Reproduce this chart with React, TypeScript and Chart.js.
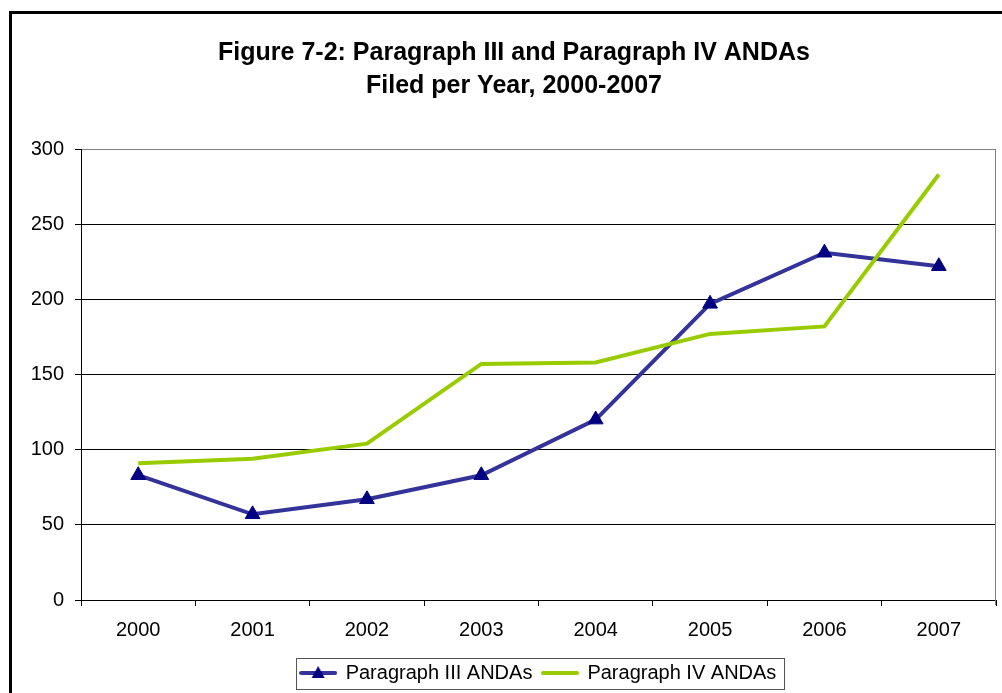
import React, { useEffect, useRef } from "react";
import { Chart, registerables } from "chart.js";

Chart.register(...registerables);

const years = ["2000", "2001", "2002", "2003", "2004", "2005", "2006", "2007"];
const paragraphIII = [83, 57, 67, 83, 120, 197, 231, 222];
const paragraphIV = [91, 94, 104, 157, 158, 177, 182, 283];
const seriesNames = ["Paragraph III ANDAs", "Paragraph IV ANDAs"];
const titleLines = ["Figure 7-2: Paragraph III and Paragraph IV ANDAs", "Filed per Year, 2000-2007"];
const yMin = 0;
const yMax = 300;
const yStep = 50;

const FONT = "'Liberation Sans', Arial, Helvetica, sans-serif";
const COLOR_III = "#333399";
const MARKER_III = "#000080";
const COLOR_IV = "#99CC00";

function makeLegendImage(color: string, withTriangle: boolean): HTMLCanvasElement {
  const c = document.createElement("canvas");
  c.width = 38;
  c.height = 16;
  const ctx = c.getContext("2d")!;
  ctx.strokeStyle = color;
  ctx.lineWidth = 4;
  ctx.lineCap = "round";
  ctx.beginPath();
  ctx.moveTo(2, 8);
  ctx.lineTo(36, 8);
  ctx.stroke();
  if (withTriangle) {
    ctx.fillStyle = MARKER_III;
    ctx.beginPath();
    ctx.moveTo(19, 1);
    ctx.lineTo(25.5, 13);
    ctx.lineTo(12.5, 13);
    ctx.closePath();
    ctx.fill();
  }
  return c;
}

const framePlugin = {
  id: "frame",
  beforeDraw(chart: any) {
    const ctx = chart.ctx;
    ctx.save();
    ctx.fillStyle = "#ffffff";
    ctx.fillRect(0, 0, chart.width, chart.height);
    ctx.fillStyle = "#000000";
    ctx.fillRect(9, 11, 3, chart.height);
    ctx.fillRect(9, 11, chart.width, 3);
    ctx.restore();
  },
  afterDraw(chart: any) {
    const ctx = chart.ctx;
    const a = chart.chartArea;
    ctx.save();
    ctx.strokeStyle = "#808080";
    ctx.lineWidth = 1;
    ctx.beginPath();
    ctx.moveTo(Math.round(a.right) - 0.5, a.top);
    ctx.lineTo(Math.round(a.right) - 0.5, a.bottom + 5);
    ctx.stroke();
    const lg = chart.legend;
    if (lg && lg.legendHitBoxes && lg.legendHitBoxes.length) {
      const hb = lg.legendHitBoxes;
      const first = hb[0];
      const last = hb[hb.length - 1];
      const left = Math.round(first.left - 5) + 0.5;
      const right = Math.round(last.left + last.width + 8) + 0.5;
      const top = Math.round(first.top - 5) + 0.5;
      const bottom = Math.round(first.top + first.height + 6) + 0.5;
      ctx.strokeStyle = "#555555";
      ctx.strokeRect(left, top, right - left, bottom - top);
    }
    ctx.restore();
  },
};

export default function App() {
  const ref = useRef<HTMLCanvasElement | null>(null);

  useEffect(() => {
    if (!ref.current) return;
    const legendImages = [makeLegendImage(COLOR_III, true), makeLegendImage(COLOR_IV, false)];
    const chart = new Chart(ref.current, {
      type: "line",
      data: {
        labels: years,
        datasets: [
          {
            label: seriesNames[0],
            data: paragraphIII,
            borderColor: COLOR_III,
            backgroundColor: MARKER_III,
            borderWidth: 4,
            pointStyle: "triangle",
            pointRadius: 8.5,
            pointBackgroundColor: MARKER_III,
            pointBorderColor: MARKER_III,
            pointBorderWidth: 1,
            tension: 0,
            order: 1,
          },
          {
            label: seriesNames[1],
            data: paragraphIV,
            borderColor: COLOR_IV,
            backgroundColor: COLOR_IV,
            borderWidth: 4,
            pointRadius: 0,
            tension: 0,
            order: 0,
          },
        ],
      },
      options: {
        responsive: false,
        animation: false,
        devicePixelRatio: 1,
        layout: { autoPadding: false, padding: { left: 32, right: 6, top: 0, bottom: 0 } },
        font: { family: FONT },
        plugins: {
          tooltip: { enabled: false },
          title: {
            display: true,
            text: titleLines,
            color: "#000",
            font: { family: FONT, size: 25, weight: "bold", lineHeight: 1.32 },
            padding: { top: 37, bottom: 46 },
          },
          legend: {
            display: true,
            position: "bottom",
            fullSize: false,
            labels: {
              usePointStyle: true,
              pointStyleWidth: 35,
              padding: 10,
              color: "#000",
              font: { family: FONT, size: 20 },
              generateLabels: (ch: any) => {
                return ch.data.datasets.map((ds: any, i: number) => ({
                  text: ds.label,
                  datasetIndex: i,
                  pointStyle: legendImages[i],
                  fillStyle: ds.borderColor,
                  strokeStyle: ds.borderColor,
                  lineWidth: 0,
                  hidden: false,
                  fontColor: "#000",
                }));
              },
            },
          },
        },
        scales: {
          x: {
            type: "category",
            offset: true,
            grid: {
              offset: true,
              drawOnChartArea: false,
              drawTicks: true,
              tickLength: 6,
              color: "#000",
            },
            border: { color: "#000", width: 1 },
            ticks: {
              color: "#000",
              font: { family: FONT, size: 20 },
              padding: 12,
              maxRotation: 0,
              autoSkip: false,
            },
            afterFit: (scale: any) => {
              scale.height = 53;
              scale.paddingLeft = 0;
              scale.paddingRight = 0;
            },
          },
          y: {
            min: yMin,
            max: yMax,
            grid: {
              color: (c: any) => (c.tick && c.tick.value === yMax ? "#808080" : "#000"),
              tickColor: "#000",
              tickLength: 6,
              lineWidth: 1,
            },
            border: { color: "#000", width: 1 },
            ticks: {
              stepSize: yStep,
              color: "#000",
              font: { family: FONT, size: 20 },
              padding: 11,
            },
            afterFit: (scale: any) => {
              scale.width = 49;
            },
          },
        },
      },
      plugins: [framePlugin],
    } as any);
    return () => chart.destroy();
  }, []);

  return (
    <div style={{ position: "absolute", left: 0, top: 0, width: 1002, height: 693 }}>
      <canvas ref={ref} width={1002} height={693} style={{ display: "block" }} />
    </div>
  );
}
